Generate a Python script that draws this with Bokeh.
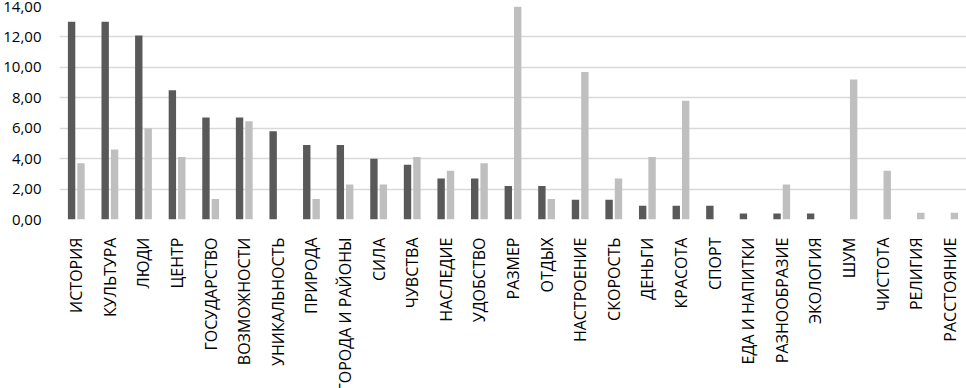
from bokeh.plotting import figure
from bokeh.models import FactorRange, FixedTicker, ColumnDataSource
from bokeh.transform import dodge
from bokeh.embed import file_html
from bokeh.resources import INLINE
import math

categories = ["ИСТОРИЯ", "КУЛЬТУРА", "ЛЮДИ", "ЦЕНТР", "ГОСУДАРСТВО", "ВОЗМОЖНОСТИ",
              "УНИКАЛЬНОСТЬ", "ПРИРОДА", "ГОРОДА И РАЙОНЫ", "СИЛА", "ЧУВСТВА", "НАСЛЕДИЕ",
              "УДОБСТВО", "РАЗМЕР", "ОТДЫХ", "НАСТРОЕНИЕ", "СКОРОСТЬ", "ДЕНЬГИ", "КРАСОТА",
              "СПОРТ", "ЕДА И НАПИТКИ", "РАЗНООБРАЗИЕ", "ЭКОЛОГИЯ", "ШУМ", "ЧИСТОТА",
              "РЕЛИГИЯ", "РАССТОЯНИЕ"]
series_dark = [13.0, 13.0, 12.1, 8.5, 6.7, 6.7, 5.8, 4.9, 4.9, 4.0, 3.6, 2.7,
               2.7, 2.2, 2.2, 1.3, 1.3, 0.9, 0.9, 0.9, 0.4, 0.4, 0.4, 0.0, 0.0, 0.0, 0.0]
series_light = [3.7, 4.6, 6.0, 4.1, 1.35, 6.45, 0.0, 1.35, 2.3, 2.3, 4.1, 3.2,
                3.7, 15.0, 1.35, 9.7, 2.7, 4.1, 7.8, 0.0, 0.0, 2.3, 0.0, 9.2, 3.2, 0.45, 0.45]
y_ticks = [0, 2, 4, 6, 8, 10, 12, 14]
y_tick_labels = ["0,00", "2,00", "4,00", "6,00", "8,00", "10,00", "12,00", "14,00"]

source = ColumnDataSource(dict(cat=categories, dark=series_dark, light=series_light))

p = figure(x_range=FactorRange(*categories), y_range=(0, 14),
           frame_width=907, frame_height=213,
           min_border_left=55, min_border_right=4, min_border_top=6, min_border_bottom=169,
           output_backend="svg", toolbar_location=None)

p.vbar(x=dodge("cat", -0.14, range=p.x_range), top="dark", width=0.22, source=source,
       fill_color="#595959", line_color=None)
p.vbar(x=dodge("cat", 0.14, range=p.x_range), top="light", width=0.22, source=source,
       fill_color="#bfbfbf", line_color=None)

p.outline_line_color = None
p.xgrid.grid_line_color = None
p.ygrid.grid_line_color = "#d9d9d9"
p.ygrid.grid_line_width = 1.5

p.yaxis.ticker = FixedTicker(ticks=y_ticks)
p.yaxis.major_label_overrides = {t: l for t, l in zip(y_ticks, y_tick_labels)}
for ax in (p.xaxis[0], p.yaxis[0]):
    ax.axis_line_color = None
    ax.major_tick_line_color = None
    ax.minor_tick_line_color = None
    ax.major_label_text_font = "Open Sans"
    ax.major_label_text_font_size = "16px"
    ax.major_label_text_color = "#000000"
p.yaxis.major_label_text_font_size = "15px"
p.yaxis.major_label_standoff = 12
p.xaxis.major_label_orientation = math.pi / 2
p.xaxis.major_label_standoff = 12

open("out.html", "w").write(file_html(p, INLINE))
